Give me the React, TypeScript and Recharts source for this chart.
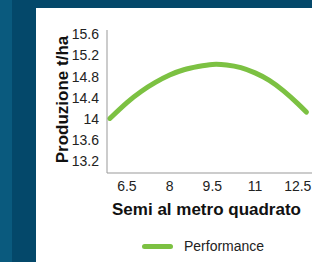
import { LineChart, Line, XAxis, YAxis, Legend } from 'recharts'

const seeds = [5.9, 6.5, 7, 7.5, 8, 8.5, 9, 9.5, 10, 10.5, 11, 11.5, 12, 12.5, 12.8]
const yieldTons = [14.01, 14.31, 14.52, 14.69, 14.83, 14.93, 14.99, 15.03, 15.02, 14.97, 14.87, 14.73, 14.53, 14.29, 14.13]
const xTicks = [6.5, 8, 9.5, 11, 12.5]
const yTicks = [13.2, 13.6, 14, 14.4, 14.8, 15.2, 15.6]

const data = seeds.map((s, i) => ({ seeds: s, value: yieldTons[i] }))

const GREEN = '#7cc142'
const FONT = '"Liberation Sans", Arial, Helvetica, sans-serif'

function YLabel({ viewBox }: any): JSX.Element {
  const cy = viewBox.y + viewBox.height / 2 - 2
  const x = 32
  return (
    <text
      x={x}
      y={cy}
      transform={`rotate(-90 ${x} ${cy})`}
      textAnchor="middle"
      fontSize={17}
      fontWeight="bold"
      fill="#111"
      fontFamily={FONT}
    >
      Produzione t/ha
    </text>
  )
}

function LegendContent(): JSX.Element {
  return (
    <div style={{ height: 20, display: 'flex', alignItems: 'center', paddingLeft: 106, fontFamily: FONT }}>
      <span style={{ display: 'inline-block', width: 31, height: 5, borderRadius: 3, background: GREEN }} />
      <span style={{ marginLeft: 11, fontSize: 14, color: '#222' }}>Performance</span>
    </div>
  )
}

export default function App(): JSX.Element {
  return (
    <div style={{ position: 'fixed', left: 0, top: 0, width: 312, height: 262, background: '#04486a', overflow: 'hidden' }}>
      <div style={{ position: 'absolute', left: 0, top: 0, width: 12, height: 262, background: '#0a5a7e' }} />
      <div style={{ position: 'absolute', left: 36, top: 8, width: 276, height: 254, background: '#fff' }}>
        <LineChart width={276} height={254} data={data} margin={{ top: 22, right: 0, left: 0, bottom: 19 }}>
          <XAxis
            dataKey="seeds"
            type="number"
            domain={[5.8, 13]}
            ticks={xTicks}
            allowDataOverflow
            height={50}
            tickLine={false}
            tickSize={6}
            tickMargin={2}
            stroke="#999"
            tick={{ fill: '#222', fontSize: 14, fontFamily: FONT }}
            label={{
              value: 'Semi al metro quadrato',
              position: 'insideBottom',
              offset: 8,
              dx: -3,
              style: { fontSize: 17, fontWeight: 'bold', fill: '#111', fontFamily: FONT },
            }}
          />
          <YAxis
            type="number"
            domain={[12.98, 15.68]}
            ticks={yTicks}
            allowDataOverflow
            width={71}
            tickLine={false}
            tickSize={6}
            tickMargin={2}
            stroke="#999"
            tick={{ fill: '#222', fontSize: 14, fontFamily: FONT }}
            label={<YLabel />}
          />
          <Legend verticalAlign="bottom" content={<LegendContent />} wrapperStyle={{ bottom: 6, left: 0, width: 276 }} />
          <Line
            type="natural"
            dataKey="value"
            name="Performance"
            stroke={GREEN}
            strokeWidth={5}
            strokeLinecap="round"
            dot={false}
            isAnimationActive={false}
          />
        </LineChart>
      </div>
    </div>
  )
}
